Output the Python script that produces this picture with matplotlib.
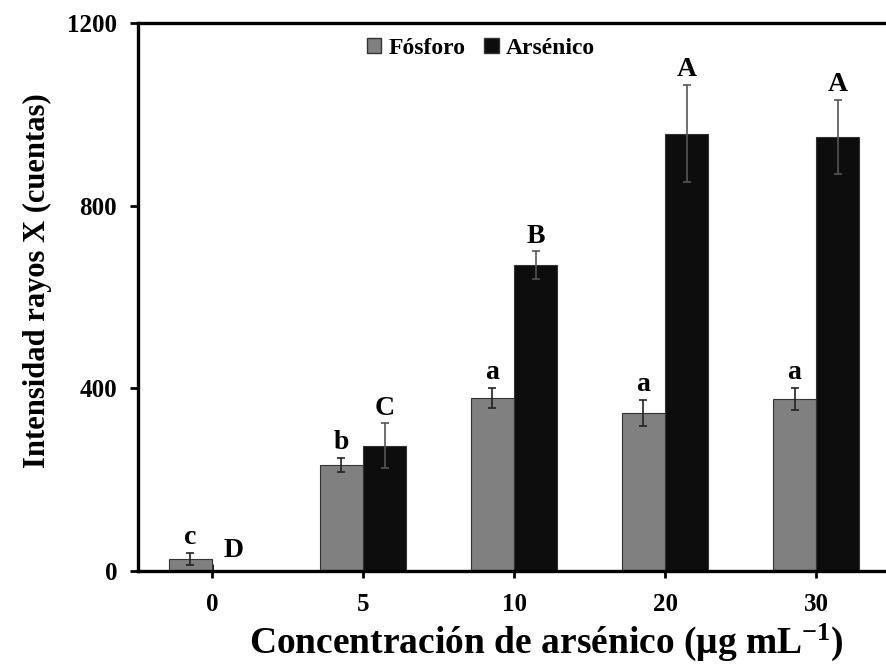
import matplotlib
matplotlib.use("Agg")
import matplotlib.pyplot as plt
import numpy as np
from matplotlib.patches import Patch

plt.rcParams['font.family'] = ['Liberation Serif', 'DejaVu Serif']
plt.rcParams['font.weight'] = 'bold'
plt.rcParams['mathtext.fontset'] = 'custom'
plt.rcParams['mathtext.rm'] = 'Liberation Serif:bold'
plt.rcParams['mathtext.bf'] = 'Liberation Serif:bold'
plt.rcParams['mathtext.it'] = 'Liberation Serif:bold'

categories = ['0', '5', '10', '20', '30']
fosforo = [26, 232, 379, 346, 377]
fosforo_err = [13, 15, 22, 29, 24]
arsenico = [0, 274, 670, 958, 951]
arsenico_err = [0, 49, 30, 106, 81]
fosforo_letters = ['c', 'b', 'a', 'a', 'a']
arsenico_letters = ['D', 'C', 'B', 'A', 'A']

fig = plt.figure(figsize=(8.87, 6.64), dpi=100)
ax = fig.add_axes([138/887, 1-571/664, (887-138)/887, (571-23)/664])

x = np.arange(len(categories))
w = 0.285
ax.bar(x - w/2, fosforo, w, color='#808080', edgecolor='#333333', linewidth=0.8,
       yerr=fosforo_err, error_kw=dict(ecolor='#222222', elinewidth=1.2, capsize=3, capthick=1.2),
       label='Fósforo', zorder=2)
ax.bar(x + w/2, arsenico, w, color='#0d0d0d', edgecolor='#333333', linewidth=0.8,
       yerr=arsenico_err, error_kw=dict(ecolor='#555555', elinewidth=1.2, capsize=3, capthick=1.2),
       label='Arsénico', zorder=2)

for i in range(len(categories)):
    ytop = max(fosforo[i] + fosforo_err[i], 12)
    ax.annotate(fosforo_letters[i], (x[i] - w/2, ytop), xytext=(0, 2), textcoords='offset points',
                ha='center', va='bottom', fontsize=20, fontweight='bold')
    ytop = max(arsenico[i] + arsenico_err[i], 12)
    ax.annotate(arsenico_letters[i], (x[i] + w/2, ytop), xytext=(0, 2), textcoords='offset points',
                ha='center', va='bottom', fontsize=20, fontweight='bold')

ax.set_xlim(-0.49, 4.47)
ax.set_ylim(0, 1200)
ax.set_yticks([0, 400, 800, 1200])
ax.set_xticks(x)
ax.set_xticklabels(categories)

for s in ['left', 'bottom', 'top']:
    ax.spines[s].set_linewidth(2.4)
ax.spines['right'].set_visible(False)

ax.tick_params(axis='y', direction='out', length=6, width=2, labelsize=18, pad=9)
ax.tick_params(axis='x', direction='inout', length=10, width=2, labelsize=18, pad=11)
for lab in ax.get_xticklabels() + ax.get_yticklabels():
    lab.set_fontweight('bold')

ax.set_xlabel('Concentración de arsénico (μg mL$^{-1}$)', fontsize=27, fontweight='bold')
ax.set_ylabel('Intensidad rayos X (cuentas)', fontsize=22, fontweight='bold')
ax.xaxis.set_label_coords((546-138)/749, (571-622)/548)
ax.yaxis.set_label_coords((52-138)/749, (571-281)/548)

handles = [Patch(facecolor='#808080', edgecolor='#333333'), Patch(facecolor='#0d0d0d', edgecolor='#333333')]
leg = fig.legend(handles, ['Fósforo', 'Arsénico'], loc='center', bbox_to_anchor=(481/887, 1-48/664),
                 ncol=2, frameon=False, prop=dict(size=17, weight='bold'),
                 handlelength=0.6, handleheight=0.6, handletextpad=0.3, columnspacing=0.8)

fig.savefig('out.png', dpi=100)
